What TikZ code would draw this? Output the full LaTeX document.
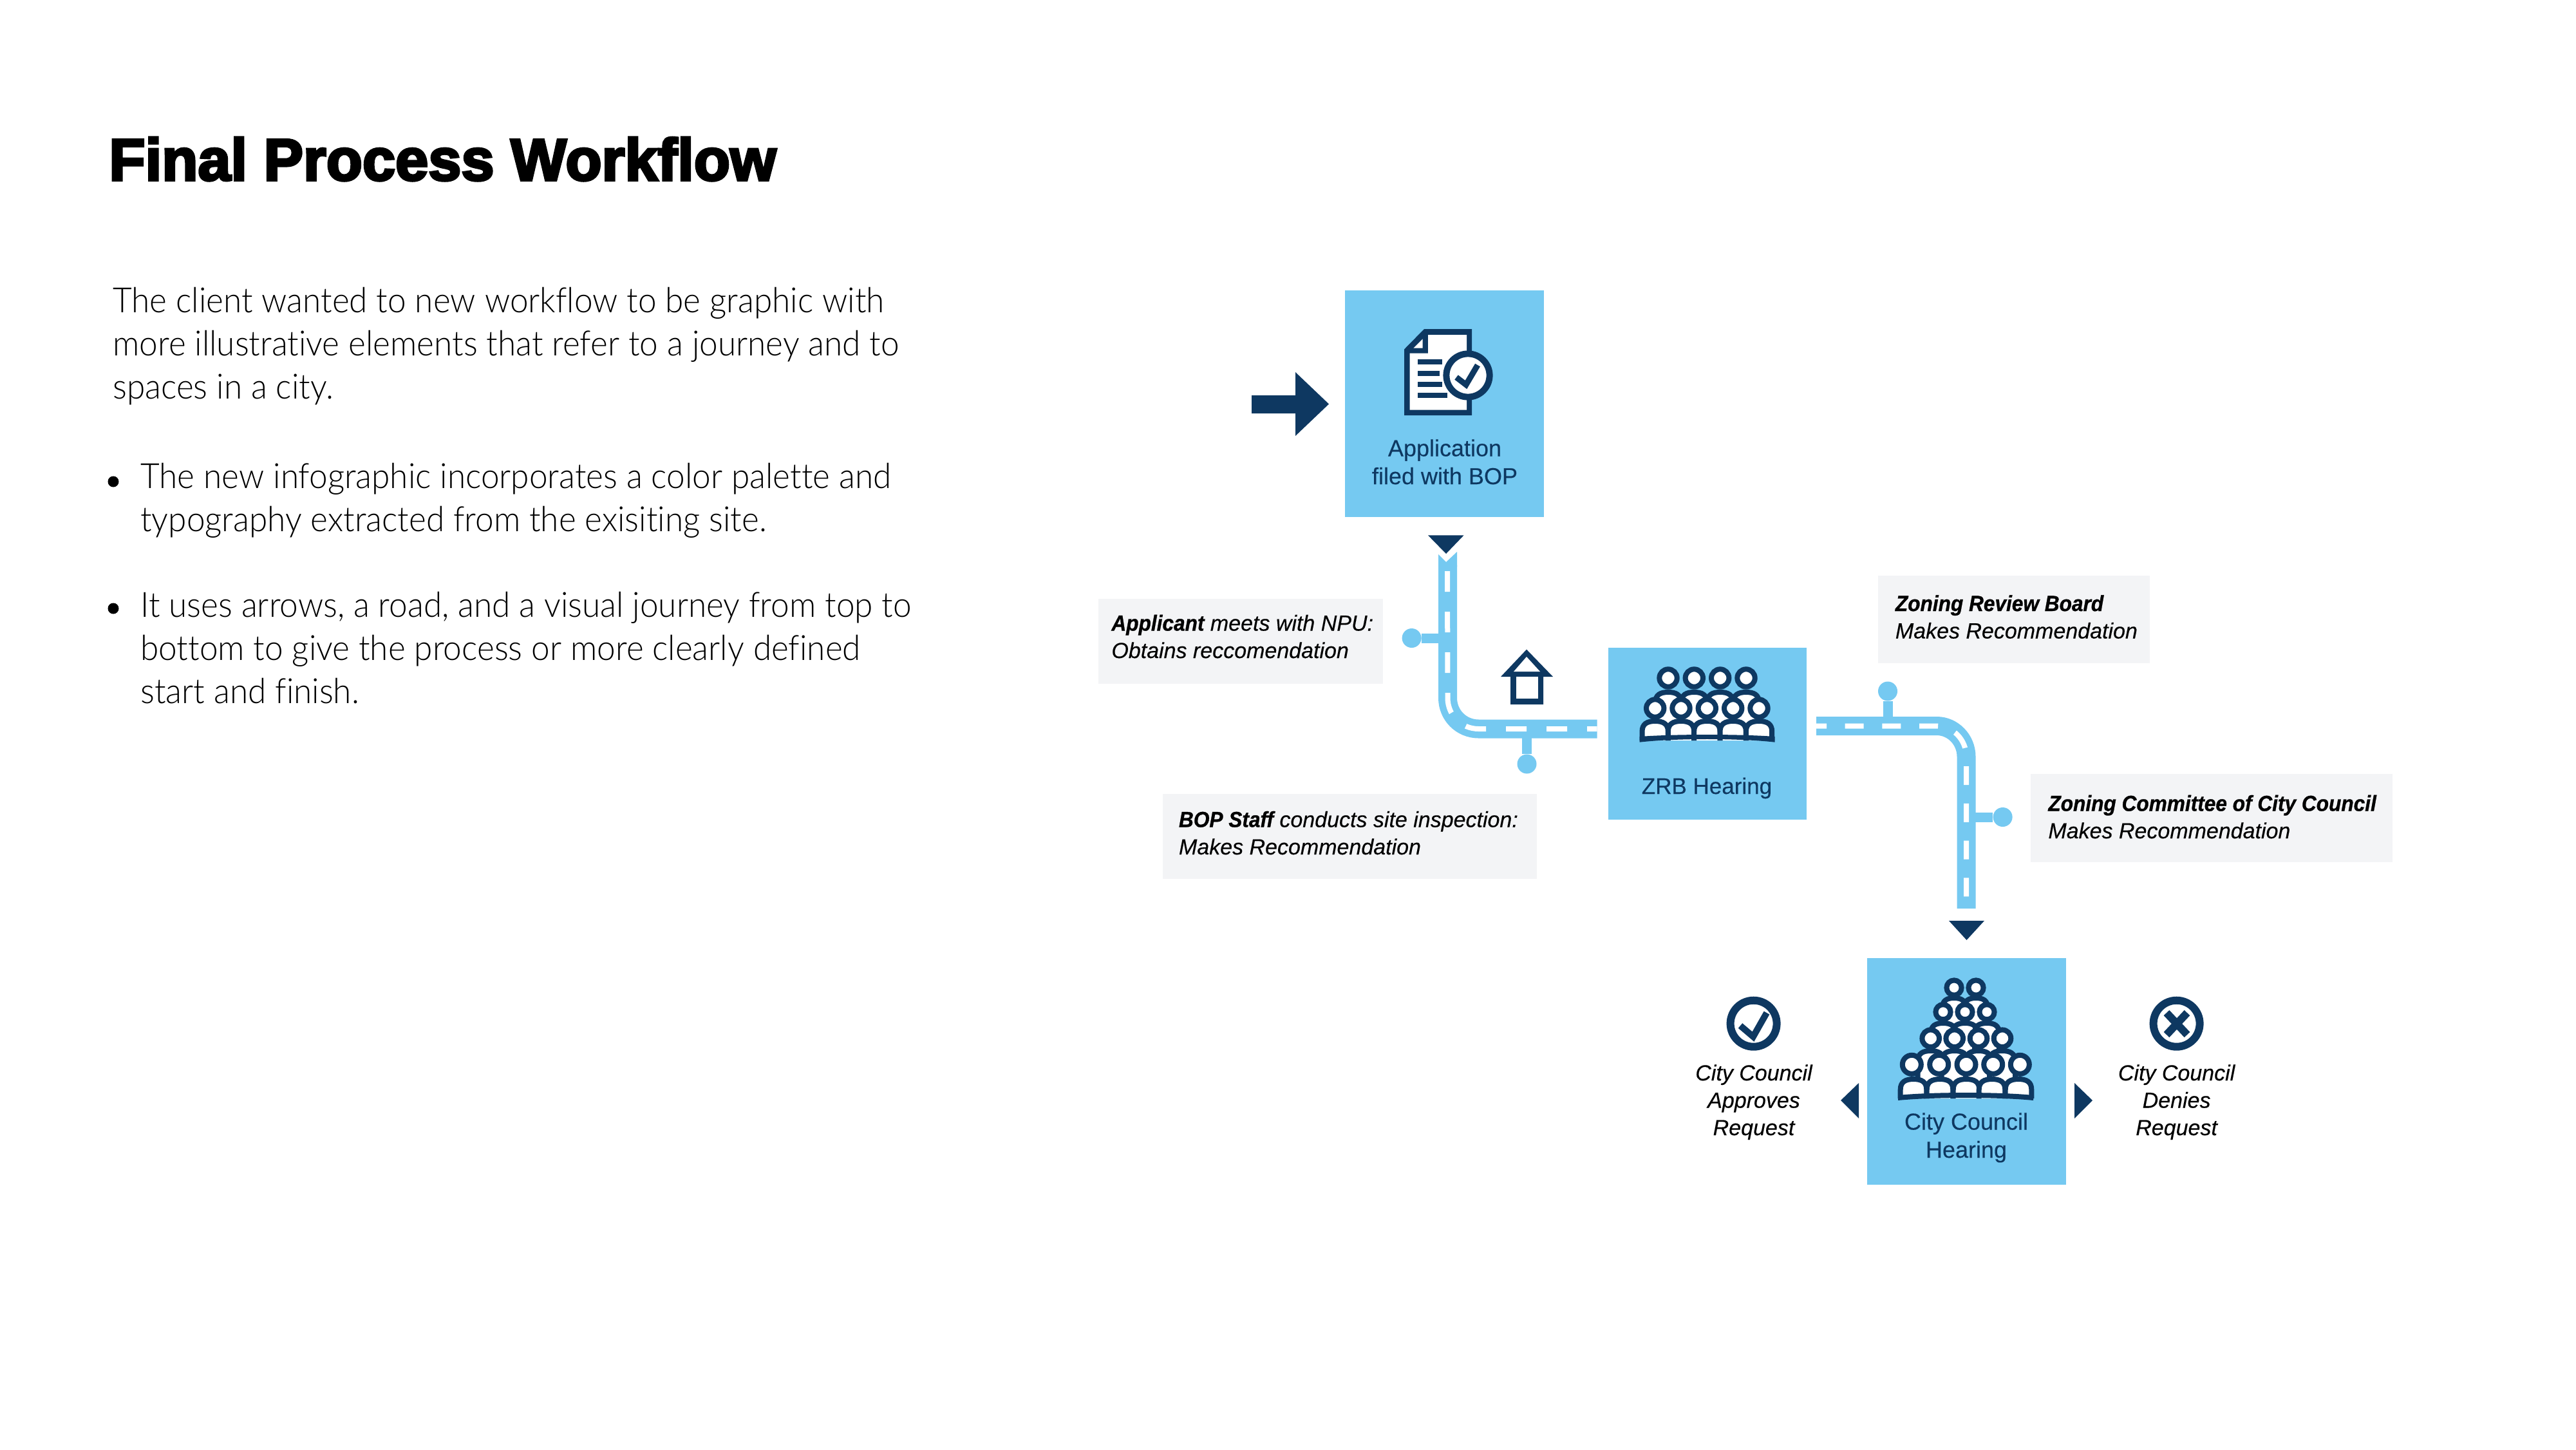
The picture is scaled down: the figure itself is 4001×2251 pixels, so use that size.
\documentclass[tikz,border=0pt]{standalone}
\usepackage{fontspec}
\setmainfont[FakeBold=0.25,BoldItalicFeatures={FakeBold=0.8,FakeStretch=0.93}]{Liberation Sans}
\newfontfamily\bodyfont[FakeStretch=0.95,Ligatures=NoCommon]{Lato Light}
\newfontfamily\titlefont[FakeBold=4]{Liberation Sans Bold}
\definecolor{sky}{HTML}{75C9F1}
\definecolor{navy}{HTML}{0E3861}
\definecolor{panel}{HTML}{F3F4F6}
\tikzset{
  skybox/.style={fill=sky,draw=none,inner sep=0pt,rectangle},
  graybox/.style={fill=panel,draw=none,inner sep=0pt,rectangle},
  boxlabel/.style={text=navy,font=\fontsize{18}{21.75}\selectfont,align=center,inner sep=0pt,anchor=base},
  notelabel/.style={text=black,font=\fontsize{17}{21.25}\selectfont\itshape,align=left,inner sep=0pt,anchor=base west},
  verdict/.style={text=black,font=\fontsize{17}{21.25}\selectfont\itshape,align=center,inner sep=0pt,anchor=base},
  bodytext/.style={text=black,font=\fontsize{27}{33.4}\selectfont\bodyfont,align=left,inner sep=0pt,anchor=base west},
  road/.style={draw=sky,line width=14.5pt,line cap=butt},
  roadmark/.style={draw=white,line width=4pt,line cap=butt},
  stem/.style={draw=sky,line width=7.5pt},
  pinhead/.style={circle,fill=sky,draw=none,minimum size=15pt,inner sep=0pt},
  crowd/.style={draw=navy,fill=white,line width=4pt},
  tick/.style={draw=navy,line width=5pt,line cap=butt,line join=miter}
}
\newcommand\hd[3]{\draw[crowd] (#1,#2) circle[radius=#3];}
\newcommand\dm[4]{\filldraw[crowd] (#1-#3,#4) -- (#1-#3,#2+0.8*#3) .. controls (#1-#3,#2+0.2*#3) and (#1-0.6*#3,#2) .. (#1,#2) .. controls (#1+0.6*#3,#2) and (#1+#3,#2+0.2*#3) .. (#1+#3,#2+0.8*#3) -- (#1+#3,#4);}
\begin{document}
\begin{tikzpicture}[x=0.5pt,y=-0.5pt]
\useasboundingbox (0,0) rectangle (4001,2251);
\fill[white] (0,0) rectangle (4001,2251);

% left column
\node[inner sep=0pt,anchor=base west,font=\fontsize{46}{50}\selectfont\titlefont] (title) at (169,280) {Final Process Workflow};
\node[bodytext] (intro) at (175,619) {The client wanted to new workflow to be graphic with\\more illustrative elements that refer to a journey and to\\spaces in a city.};
\node[circle,fill=black,minimum size=8.5pt,inner sep=0pt] (b1) at (176,748) {};
\node[bodytext] (t1) at (218,825) {The new infographic incorporates a color palette and\\typography extracted from the exisiting site.};
\node[circle,fill=black,minimum size=8.5pt,inner sep=0pt] (b2) at (176,945) {};
\node[bodytext] (t2) at (218,1092) {It uses arrows, a road, and a visual journey from top to\\bottom to give the process or more clearly defined\\start and finish.};

% boxes
\node[skybox,minimum width=154.3pt,minimum height=175.8pt] (app) at (2243.7,627.2) {};
\node[skybox,minimum width=153.75pt,minimum height=133.5pt] (zrb) at (2651.75,1139.5) {};
\node[skybox,minimum width=154.25pt,minimum height=176pt] (city) at (3054.25,1664) {};
\node[graybox,minimum width=221pt,minimum height=65.75pt] (gapp) at (1927,995.75) {};
\node[graybox,minimum width=290.5pt,minimum height=66.25pt] (gbop) at (2096.5,1298.75) {};
\node[graybox,minimum width=211.15pt,minimum height=68pt] (gzrb) at (3127.85,962) {};
\node[graybox,minimum width=281pt,minimum height=68.5pt] (gcom) at (3435,1270.5) {};

% box labels
\node[boxlabel] (lapp) at (2244,752) {Application\\filed with BOP};
\node[boxlabel,font=\fontsize{17.5}{21.75}\selectfont] (lzrb) at (2651,1233) {ZRB Hearing};
\node[boxlabel] (lcity) at (3054,1798) {City Council\\Hearing};

% notes
\node[notelabel] (napp) at (1726,1022) {{\bfseries Applicant} meets with NPU:\\Obtains reccomendation};
\node[notelabel] (nbop) at (1830.6,1327) {{\bfseries BOP Staff} conducts site inspection:\\Makes Recommendation};
\node[notelabel] (nzrb) at (2943.5,991.5) {{\bfseries Zoning Review Board}\\Makes Recommendation};
\node[notelabel] (ncom) at (3181,1302) {{\bfseries Zoning Committee of City Council}\\Makes Recommendation};
\node[verdict] (vyes) at (2724,1763) {City Council\\Approves\\Request};
\node[verdict] (vno) at (3380.6,1763) {City Council\\Denies\\Request};

% entry arrow
\fill[navy] (1944,614) -- (2012,614) -- (2012,578) -- (2064,627.5) -- (2012,677) -- (2012,642) -- (1944,642) -- cycle;

% first road
\coordinate (r1top) at (2248.5,878);
\coordinate (r1dash) at (2248,887);
\coordinate (r1bend) at (2248.5,1084);
\coordinate (r1h) at (2296.5,1132);
\coordinate (r1end) at (2480.6,1132);
\fill[sky] (2234,861) -- (2246,873) -- (2263,857) -- (2263,880) -- (2234,880) -- cycle;
\node[pinhead] (pin1) at (2192.6,991) {};
\node[pinhead] (pin2) at (2371.5,1186.5) {};
\coordinate (pin1j) at (2248,991);
\coordinate (pin2j) at (2371.5,1132);
\draw[stem] (pin1) -- (pin1j);
\draw[stem] (pin2) -- (pin2j);
\draw[road] (r1top) -- (r1bend) .. controls (2248.5,1110.5) and (2269.5,1132) .. (r1h) -- (r1end);
\draw[roadmark,dash pattern=on 16pt off 15.5pt] (r1dash) -- (r1bend) .. controls (2248.5,1110.5) and (2269.5,1132) .. (r1h) -- (r1end);
\fill[navy] (2218,831.4) -- (2273.5,831.4) -- (2246,860) -- cycle;

% second road
\coordinate (r2start) at (2821,1127.5);
\coordinate (r2bend) at (3008,1127.5);
\coordinate (r2v) at (3054,1175);
\coordinate (r2end) at (3054,1411);
\coordinate (r2dash) at (3054,1393);
\node[pinhead] (pin3) at (2932,1073.5) {};
\node[pinhead] (pin4) at (3110.6,1269) {};
\coordinate (pin3j) at (2932,1127.5);
\coordinate (pin4j) at (3054,1269);
\draw[stem] (pin3) -- (pin3j);
\draw[stem] (pin4) -- (pin4j);
\draw[road] (r2start) -- (r2bend) .. controls (3033.4,1127.5) and (3054,1149) .. (r2v) -- (r2end);
\draw[roadmark,dash pattern=on 14.5pt off 14.35pt,dash phase=6.5pt] (r2start) -- (r2bend) .. controls (3033.4,1127.5) and (3054,1149) .. (r2v) -- (r2dash);
\fill[navy] (3027,1430) -- (3082,1430) -- (3054.5,1460) -- cycle;

% house
\fill[navy] (2371,1008.7) -- (2412,1051) -- (2397,1051) -- (2397,1094) -- (2346,1094) -- (2346,1051) -- (2331,1051) -- cycle;
\fill[white] (2371,1020) -- (2392,1043) -- (2351,1043) -- cycle;
\fill[white] (2354.5,1051) rectangle (2389,1085);

% document icon
\fill[navy] (2212,511) -- (2286,511) -- (2286,645) -- (2181,645) -- (2181,542.5) -- cycle;
\fill[white] (2218,520) -- (2278,520) -- (2278,636.5) -- (2189.7,636.5) -- (2189.7,548.6) -- (2218,548.6) -- cycle;
\fill[white] (2209.6,526.4) -- (2209.6,540.7) -- (2195.4,540.7) -- cycle;
\fill[navy] (2201.6,558) rectangle (2240,566);
\fill[navy] (2201.6,576) rectangle (2236,584);
\fill[navy] (2201.6,592.5) rectangle (2240,601);
\fill[navy] (2201.6,610) rectangle (2248,618);
\draw[crowd,line width=5pt] (2280,583) circle[radius=33.6];
\draw[tick,line width=4.5pt] (2262,586) -- (2277,597.5) -- (2295,567);

% ZRB crowd
\foreach \c in {2591,2631.3,2671.7,2712} {\dm{\c}{1075}{20}{1130}}
\foreach \c in {2591,2631.3,2671.7,2712} {\hd{\c}{1053}{13.7}}
\foreach \c in {2570.7,2611,2651.3,2691.7,2732} {\hd{\c}{1100}{13.7}}
\foreach \c in {2570.7,2611,2651.3,2691.7,2732} {\dm{\c}{1120}{20.2}{1150}}
\fill[navy] (2546.7,1152.7) .. controls (2600,1146.4) and (2703,1146.4) .. (2756.7,1152.7) -- (2756.7,1144) .. controls (2703,1140) and (2600,1140) .. (2546.7,1144) -- cycle;

% city crowd
\foreach \c in {3035,3069} {\dm{\c}{1550}{18}{1605}}
\foreach \c in {3035,3069} {\hd{\c}{1534}{11.6}}
\foreach \c in {3018,3052,3086} {\dm{\c}{1589}{19}{1650}}
\foreach \c in {3018,3052,3086} {\hd{\c}{1571.7}{11.6}}
\foreach \c in {2998.7,3035.7,3073,3110} {\dm{\c}{1632}{20}{1690}}
\foreach \c in {2998.7,3035.7,3073,3110} {\hd{\c}{1612.7}{13.3}}
\foreach \c in {2969.3,3011.7,3054,3095.7,3137.3} {\hd{\c}{1653.3}{14.5}}
\foreach \c in {2972,3013,3054,3094,3135} {\dm{\c}{1676}{20.3}{1706}}
\fill[navy] (2948,1709) .. controls (3000,1703.7) and (3106,1703.7) .. (3158,1709) -- (3158,1701) .. controls (3106,1695.7) and (3000,1695.7) .. (2948,1701) -- cycle;

% decision arrows
\fill[navy] (2887,1682) -- (2887,1737) -- (2859,1709) -- cycle;
\fill[navy] (3222,1682) -- (3222,1737) -- (3250,1709) -- cycle;

% decision icons
\draw[crowd,line width=6pt] (2723.6,1589.7) circle[radius=36];
\draw[tick,line width=5pt] (2703,1593) -- (2723,1610) -- (2744,1573);
\draw[crowd,line width=6pt] (3380.6,1589.7) circle[radius=36];
\draw[tick,line width=6pt] (3365,1573) -- (3397,1607);
\draw[tick,line width=6pt] (3397,1573) -- (3365,1607);
\end{tikzpicture}
\end{document}
